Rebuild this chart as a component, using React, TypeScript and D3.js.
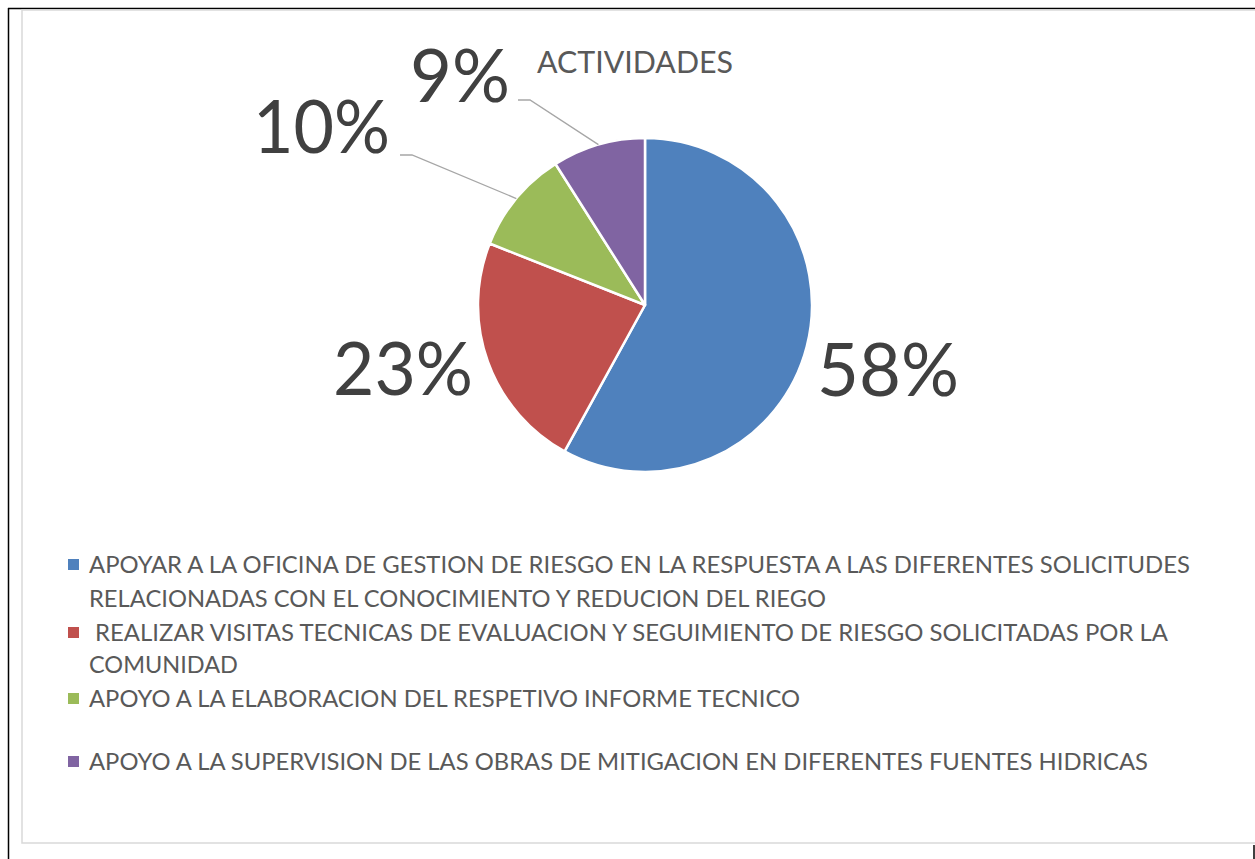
import React from "react";
import * as d3 from "d3";

const categories = [
  "APOYAR A LA OFICINA DE GESTION DE RIESGO EN LA RESPUESTA A LAS DIFERENTES SOLICITUDES RELACIONADAS CON EL CONOCIMIENTO Y REDUCION DEL RIEGO",
  " REALIZAR VISITAS TECNICAS DE EVALUACION Y SEGUIMIENTO DE RIESGO SOLICITADAS POR LA COMUNIDAD",
  "APOYO A LA ELABORACION DEL RESPETIVO INFORME TECNICO",
  "APOYO A LA SUPERVISION DE LAS OBRAS DE MITIGACION EN DIFERENTES FUENTES HIDRICAS",
];
const values = [58, 23, 10, 9];
const colors = ["#4F81BD", "#C0504D", "#9BBB59", "#8064A2"];
const title = "ACTIVIDADES";

// legend wrapping (lines per entry)
const legendLines = [
  ["APOYAR A LA OFICINA DE GESTION DE RIESGO EN LA RESPUESTA A LAS DIFERENTES SOLICITUDES", "RELACIONADAS CON EL CONOCIMIENTO Y REDUCION DEL RIEGO"],
  ["REALIZAR VISITAS TECNICAS DE EVALUACION Y SEGUIMIENTO DE RIESGO SOLICITADAS POR LA", "COMUNIDAD"],
  ["APOYO A LA ELABORACION DEL RESPETIVO INFORME TECNICO"],
  ["APOYO A LA SUPERVISION DE LAS OBRAS DE MITIGACION EN DIFERENTES FUENTES HIDRICAS"],
];

// layout
const W = 1255, H = 859;
const cx = 645, cy = 305, R = 167;
const FONT = "Lato, 'Open Sans', sans-serif";
const legendLayout = {
  x: 89,
  markerX: 68,
  entryY: [573, 641, 707, 770],
  lineH: 33,
  lineX: [[0, 0], [6, 0], [0], [0]],
  lineW: [[1101, 737], [1073, 149], [711], [1059]],
};
// label placements relative to pie center: [x, baselineY, anchor, textWidth]
const labelLayout: [number, number, string, number][] = [
  [cx + R + 5, 396, "start", 142],
  [cx - R - 5, 395, "end", 140],
  [390, 153, "end", 137],
  [510, 102, "end", 100],
];
// leader line start points (label side) for small slices
const leaderStart: ([number, number] | null)[] = [null, null, [400, 155], [518, 100]];

export default function App() {
  const pie = d3.pie<number>().sort(null).startAngle(0).endAngle(2 * Math.PI)(values);
  const arc = d3.arc<d3.PieArcDatum<number>>().innerRadius(0).outerRadius(R);
  const total = d3.sum(values);
  const fmt = (v: number) => `${Math.round((v / total) * 100)}%`;

  return (
    <svg width={W} height={H} style={{ position: "absolute", left: 0, top: 0, background: "#fff" }}>
      {/* page borders */}
      <line x1={8} y1={8.5} x2={W} y2={8.5} stroke="#000" strokeWidth={1.5} />
      <line x1={8.5} y1={8} x2={8.5} y2={H} stroke="#000" strokeWidth={1.5} />
      <line x1={1254} y1={845} x2={1254} y2={H} stroke="#000" strokeWidth={1.5} />
      {/* chart area border */}
      <rect x={22} y={10} width={W} height={833} fill="#fff" stroke="#D9D9D9" strokeWidth={1.5} />

      <text x={635} y={73} textAnchor="middle" fontFamily={FONT} fontSize={31} fill="#595959" textLength={196} lengthAdjust="spacingAndGlyphs">
        {title}
      </text>

      <g transform={`translate(${cx},${cy})`}>
        {pie.map((d, i) => (
          <path key={i} d={arc(d) || ""} fill={colors[i]} stroke="#fff" strokeWidth={2.5} strokeLinejoin="round" />
        ))}
      </g>

      {pie.map((d, i) => {
        const s = leaderStart[i];
        if (!s) return null;
        const mid = (d.startAngle + d.endAngle) / 2;
        const ex = cx + Math.sin(mid) * R;
        const ey = cy - Math.cos(mid) * R;
        return (
          <polyline key={i} points={`${s[0]},${s[1]} ${s[0] + 12},${s[1]} ${ex},${ey}`} fill="none" stroke="#A6A6A6" strokeWidth={1.3} />
        );
      })}

      {pie.map((d, i) => {
        const [x, y, anchor, w] = labelLayout[i];
        return (
          <text key={i} x={x} y={y} textAnchor={anchor as any} fontFamily={FONT} fontSize={73} fill="#404040" textLength={w} lengthAdjust="spacingAndGlyphs">
            {fmt(d.data)}
          </text>
        );
      })}

      {categories.map((c, i) => (
        <g key={i}>
          <rect x={legendLayout.markerX} y={legendLayout.entryY[i] - 14} width={11} height={11} fill={colors[i]} />
          {legendLines[i].map((ln, j) => (
            <text
              key={j}
              x={legendLayout.x + legendLayout.lineX[i][j]}
              y={legendLayout.entryY[i] + j * (i === 0 ? 34 : 32)}
              fontFamily={FONT}
              fontSize={22.5}
              fill="#595959"
              textLength={legendLayout.lineW[i][j]}
              lengthAdjust="spacingAndGlyphs"
            >
              {ln}
            </text>
          ))}
        </g>
      ))}
    </svg>
  );
}
